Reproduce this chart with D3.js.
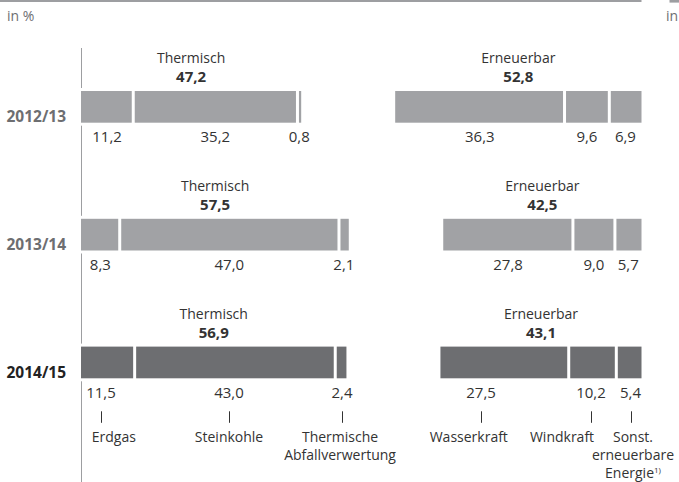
<!DOCTYPE html>
<html>
<head>
<meta charset="utf-8">
<script src="https://cdn.jsdelivr.net/npm/d3@7"></script>
<style>
  html, body { margin: 0; padding: 0; background: #fff; overflow: hidden; }
  svg { display: block; font-family: "Open Sans", "Noto Sans", sans-serif; }
</style>
</head>
<body>
<script>
// ---------------- data ----------------
const years = ["2012/13", "2013/14", "2014/15"];
const groupNames = ["Thermisch", "Erneuerbar"];
const thermTotal = [47.2, 57.5, 56.9];
const renewTotal = [52.8, 42.5, 43.1];
const erdgas = [11.2, 8.3, 11.5];
const steinkohle = [35.2, 47.0, 43.0];
const abfall = [0.8, 2.1, 2.4];
const wasserkraft = [36.3, 27.8, 27.5];
const windkraft = [9.6, 9.0, 10.2];
const sonstige = [6.9, 5.7, 5.4];
const thermCats = [["Erdgas"], ["Steinkohle"], ["Thermische", "Abfallverwertung"]];
const renewCats = [["Wasserkraft"], ["Windkraft"], ["Sonst.", "erneuerbare", "Energie"]];
const unitLabel = "in %";
const neighbourUnitFragment = "in";
const footnoteMark = "1)";

// ---------------- layout ----------------
const W = 679, H = 482;
const left = 81, groupGap = 94, fullWidth = 466.5, segGap = 3;
const colorLight = "#a1a2a5", colorDark = "#6d6e71";
const textColor = "#333333", lineColor = "#9d9ea1";
const fsText = 14, fsNum = 15, fsBold = 15, fsYear = 15.5;
// hand placement of last-row labels (offset from segment centre), as in the original
const lastRowAnchorDx = [[-6.8, -5.9, 1.2], [-23.5, -1.5, 1.6]];
const lastRowLabelDx = [[12.8, 0, -2], [-12.3, -29, 2.5]];

const fmtLocale = d3.formatLocale({ decimal: ",", thousands: ".", grouping: [3], currency: ["", "€"] });
const fmt = fmtLocale.format(".1f");

const svg = d3.select("body").append("svg").attr("width", W).attr("height", H);

const x = d3.scaleLinear().domain([0, 100]).range([0, fullWidth]);
const y = d3.scaleBand().domain(years).range([91, 378.3]).paddingInner(0.752).paddingOuter(0);
const bw = y.bandwidth();

// top rule and unit
svg.append("rect").attr("x", 0).attr("y", 0).attr("width", left + fullWidth + groupGap).attr("height", 2).attr("fill", lineColor);
svg.append("text").attr("x", 7).attr("y", 21).attr("fill", "#6d6e71").attr("font-size", fsText).text(unitLabel);
// fragment of the neighbouring chart
svg.append("rect").attr("x", 669.5).attr("y", 0).attr("width", 20).attr("height", 2.6).attr("fill", lineColor);
svg.append("text").attr("x", 666).attr("y", 21).attr("fill", "#6d6e71").attr("font-size", fsText).text(neighbourUnitFragment);

// vertical axis line, broken at the bars
const breaks = years.map(yr => [y(yr) - 3, y(yr) + bw + 3]);
let yStart = 48;
breaks.forEach(b => {
  svg.append("line").attr("x1", left + 0.5).attr("x2", left + 0.5).attr("y1", yStart).attr("y2", b[0])
    .attr("stroke", lineColor).attr("stroke-width", 1);
  yStart = b[1];
});
svg.append("line").attr("x1", left + 0.5).attr("x2", left + 0.5).attr("y1", yStart).attr("y2", H)
  .attr("stroke", lineColor).attr("stroke-width", 1);

years.forEach((yr, i) => {
  const top = y(yr);
  const last = i === years.length - 1;
  const fill = last ? colorDark : colorLight;

  // year label
  svg.append("text").attr("x", 6.5).attr("y", top + bw - 0.5)
    .attr("font-size", fsYear).attr("font-weight", "bold")
    .attr("fill", last ? "#222222" : "#6d6e71").text(yr);

  const groups = [
    { name: groupNames[0], total: thermTotal[i], vals: [erdgas[i], steinkohle[i], abfall[i]], cats: thermCats, x0: left },
    { name: groupNames[1], total: renewTotal[i], vals: [wasserkraft[i], windkraft[i], sonstige[i]], cats: renewCats, x0: left + x(thermTotal[i]) + groupGap }
  ];

  groups.forEach((g, gi) => {
    const cx = g.x0 + x(g.total) / 2;
    svg.append("text").attr("x", cx).attr("y", top - 28).attr("text-anchor", "middle")
      .attr("font-size", fsText).attr("fill", textColor).text(g.name);
    svg.append("text").attr("x", cx).attr("y", top - 9).attr("text-anchor", "middle")
      .attr("font-size", fsBold).attr("font-weight", "bold").attr("fill", textColor).text(fmt(g.total));

    let cum = 0;
    g.vals.forEach((v, k) => {
      const xs = g.x0 + x(cum), xe = g.x0 + x(cum + v);
      const a = k > 0 ? segGap / 2 : 0;
      const b = k < g.vals.length - 1 ? segGap / 2 : 0;
      svg.append("rect").attr("x", xs + a).attr("y", top).attr("width", Math.max(0, xe - xs - a - b)).attr("height", bw)
        .attr("fill", fill);
      let ax = (xs + xe) / 2;
      if (last) ax += lastRowAnchorDx[gi][k];
      svg.append("text").attr("x", ax).attr("y", top + bw + 19.5).attr("text-anchor", "middle")
        .attr("font-size", fsNum).attr("fill", textColor).text(fmt(v));
      if (last) {
        svg.append("line").attr("x1", Math.round(ax) + 0.5).attr("x2", Math.round(ax) + 0.5)
          .attr("y1", top + bw + 33).attr("y2", top + bw + 44.5)
          .attr("stroke", "#333333").attr("stroke-width", 1);
        const lx = ax + lastRowLabelDx[gi][k];
        const t = svg.append("text").attr("x", lx).attr("y", top + bw + 63.5).attr("text-anchor", "middle")
          .attr("font-size", fsText).attr("fill", textColor);
        g.cats[k].forEach((line, li) => {
          t.append("tspan").attr("x", lx).attr("dy", li === 0 ? 0 : 18).text(line);
          if (gi === 1 && k === 2 && li === g.cats[k].length - 1) {
            t.append("tspan").attr("font-size", 8).attr("dy", -5).text(footnoteMark);
          }
        });
      }
      cum += v;
    });
  });
});
</script>
</body>
</html>
